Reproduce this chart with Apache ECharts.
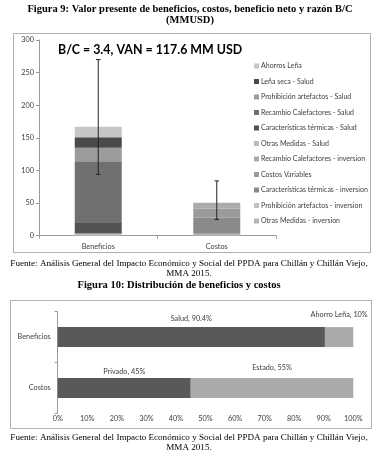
<!DOCTYPE html>
<html>
<head>
<meta charset="utf-8">
<script src="https://cdn.jsdelivr.net/npm/echarts@6/dist/echarts.min.js"></script>
<style>
  html, body { margin: 0; padding: 0; background: #fff; }
  #main { width: 377px; height: 461px; }
</style>
</head>
<body>
<div id="main"></div>
<script>
// figura 9 - valor presente (MMUSD), stack order bottom -> top
const cats9 = ['Beneficios', 'Costos'];
const names9 = [
  'Otras Medidas - inversion',
  'Prohibición artefactos - inversion',
  'Características térmicas - inversion',
  'Costos Variables',
  'Recambio Calefactores - inversion',
  'Otras Medidas - Salud',
  'Características térmicas - Salud',
  'Recambio Calefactores - Salud',
  'Prohibición artefactos - Salud',
  'Leña seca - Salud',
  'Ahorros Leña'
];
const beneficios9 = [0, 0, 0, 0, 0, 3.5, 16, 94.5, 21, 16, 16];
const costos9 = [2.5, 0.5, 24.5, 13.7, 9.2, 0, 0, 0, 0, 0, 0];
const colors9 = ['#b4b4b4', '#c0c0c0', '#8a8a8a', '#9b9b9b', '#ababab',
  '#bdbdbd', '#535353', '#707070', '#9b9b9b', '#4a4a4a', '#c6c6c6'];
const errLow = [94, 25];
const errHigh = [270, 84];
const yTicks9 = [0, 50, 100, 150, 200, 250, 300];

// figura 10 - distribucion
const cats10 = ['Beneficios', 'Costos'];
const first10 = [90.4, 45];
const firstLabels10 = ['Salud, 90.4%', 'Privado, 45%'];
const second10 = [9.6, 55];
const secondLabels10 = ['Ahorro Leña, 10%', 'Estado, 55%'];

const sans = 'Lato';
const serif = '"Liberation Serif"';

const chart = echarts.init(document.getElementById('main'));

function txt(text, x, y, font, align) {
  return {
    type: 'text', x: x, y: y,
    style: { text: text, font: font, fill: '#000', align: align || 'center', verticalAlign: 'middle' }
  };
}

const series = names9.map((n, i) => ({
  name: n,
  type: 'bar',
  stack: 'vp',
  xAxisIndex: 0, yAxisIndex: 0,
  barWidth: 47,
  itemStyle: { color: colors9[i] },
  data: [beneficios9[i], costos9[i]]
}));

series.push({
  type: 'custom',
  xAxisIndex: 0, yAxisIndex: 0,
  data: cats9.map((c, i) => [i, errLow[i], errHigh[i]]),
  encode: { x: 0, y: [1, 2] },
  z: 10,
  renderItem: function (params, api) {
    const lo = api.coord([api.value(0), api.value(1)]);
    const hi = api.coord([api.value(0), api.value(2)]);
    const w = 2.3;
    const st = { stroke: '#222', lineWidth: 1 };
    return {
      type: 'group',
      children: [
        { type: 'line', shape: { x1: hi[0], y1: hi[1], x2: lo[0], y2: lo[1] }, style: st },
        { type: 'line', shape: { x1: hi[0] - w, y1: hi[1], x2: hi[0] + w, y2: hi[1] }, style: st },
        { type: 'line', shape: { x1: lo[0] - w, y1: lo[1], x2: lo[0] + w, y2: lo[1] }, style: st }
      ]
    };
  }
});

series.push({
  name: 'parte1', type: 'bar', stack: 'dist',
  xAxisIndex: 1, yAxisIndex: 1, barWidth: 20,
  itemStyle: { color: '#595959' },
  label: {
    show: true, position: 'top', color: '#404040', fontFamily: sans, fontSize: 7.3,
    formatter: p => firstLabels10[p.dataIndex]
  },
  data: first10.map((v, i) => ({ value: v, label: { distance: i === 0 ? 5 : 3 } }))
});
series.push({
  name: 'parte2', type: 'bar', stack: 'dist',
  xAxisIndex: 1, yAxisIndex: 1, barWidth: 20,
  itemStyle: { color: '#aaaaaa' },
  label: {
    show: true, position: 'top', color: '#404040', fontFamily: sans, fontSize: 7.3,
    formatter: p => secondLabels10[p.dataIndex]
  },
  data: second10.map((v, i) => ({ value: v, label: { distance: i === 0 ? 9 : 7 } }))
});

const axisGray = { lineStyle: { color: '#9a9a9a', width: 1 } };

chart.setOption({
  animation: false,
  backgroundColor: '#fff',
  textStyle: { fontFamily: sans },
  grid: [
    { left: 39, right: 101, top: 40, bottom: 225.3 },
    { left: 57.7, right: 23.7, top: 311.7, bottom: 47.7 }
  ],
  xAxis: [
    {
      type: 'category', gridIndex: 0, data: cats9,
      axisLine: axisGray,
      axisTick: { show: true, length: 3, lineStyle: { color: '#9a9a9a' } },
      axisLabel: { color: '#404040', fontSize: 7.3, margin: 7 }
    },
    {
      type: 'value', gridIndex: 1, min: 0, max: 100, interval: 10,
      axisLine: { show: false }, axisTick: { show: false }, splitLine: { show: false },
      axisLabel: { color: '#404040', fontSize: 7.3, margin: 2, formatter: '{value}%' }
    }
  ],
  yAxis: [
    {
      type: 'value', gridIndex: 0, min: yTicks9[0], max: yTicks9[yTicks9.length - 1], interval: 50,
      axisLine: Object.assign({ show: true }, axisGray),
      axisTick: { show: true, length: 3, lineStyle: { color: '#9a9a9a' } },
      splitLine: { show: false },
      axisLabel: { color: '#404040', fontSize: 7.3, margin: 5 }
    },
    {
      type: 'category', gridIndex: 1, data: cats10, inverse: true,
      axisLine: axisGray,
      axisTick: { show: true, length: 3, lineStyle: { color: '#9a9a9a' } },
      axisLabel: { color: '#404040', fontSize: 7.3, margin: 7 }
    }
  ],
  legend: {
    orient: 'vertical', left: 249, top: 57.5,
    data: names9.slice().reverse(),
    icon: 'rect', itemWidth: 5, itemHeight: 5, itemGap: 8.5,
    textStyle: { color: '#404040', fontSize: 7, fontFamily: sans, padding: [0, 0, 0, -3] }
  },
  graphic: [
    { type: 'rect', shape: { x: 13.5, y: 33.5, width: 357, height: 219 }, style: { fill: 'none', stroke: '#b0b0b0', lineWidth: 1 } },
    { type: 'rect', shape: { x: 10.5, y: 300.5, width: 361, height: 128 }, style: { fill: 'none', stroke: '#b0b0b0', lineWidth: 1 } },
    txt('Figura 9: Valor presente de beneficios, costos, beneficio neto y razón B/C', 190, 9.5, 'bold 10.5px ' + serif),
    txt('(MMUSD)', 190, 20.5, 'bold 10.5px ' + serif),
    txt('B/C = 3.4, VAN = 117.6 MM USD', 58, 50, 'bold 12.4px ' + sans, 'left'),
    txt('Fuente: Análisis General del Impacto Económico y Social del PPDA para Chillán y Chillán Viejo,', 189, 263.5, '9.1px ' + serif),
    txt('MMA 2015.', 189, 273.5, '9.1px ' + serif),
    txt('Figura 10: Distribución de beneficios y costos', 179, 285.5, 'bold 10.5px ' + serif),
    txt('Fuente: Análisis General del Impacto Económico y Social del PPDA para Chillán y Chillán Viejo,', 189, 437.7, '9.1px ' + serif),
    txt('MMA 2015.', 189, 447.5, '9.1px ' + serif)
  ],
  series: series
});
</script>
</body>
</html>
